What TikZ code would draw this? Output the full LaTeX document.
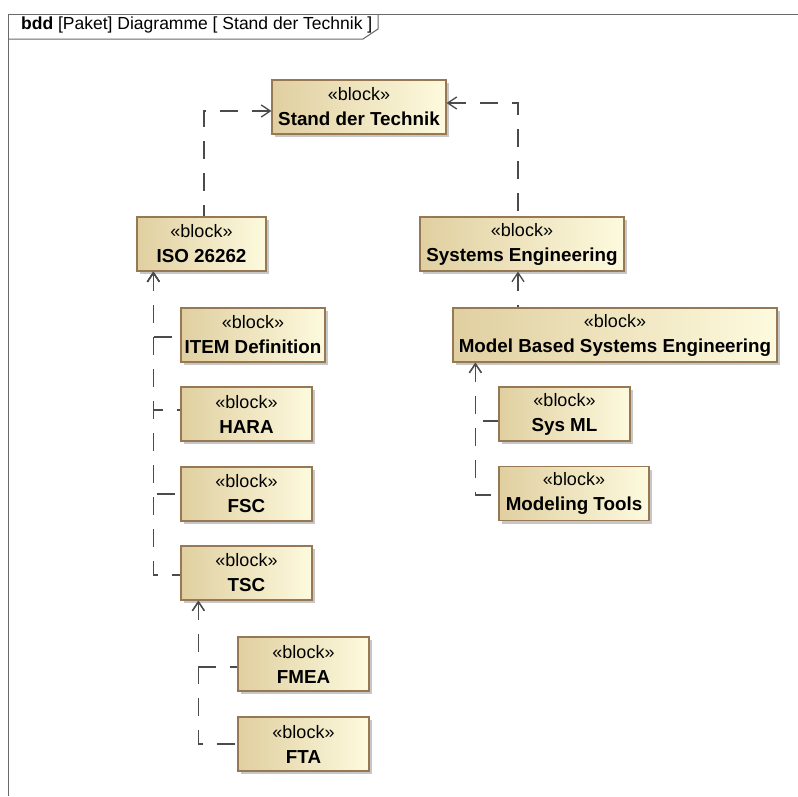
\documentclass[tikz,border=0pt]{standalone}
\usepackage{fontspec}
\setmainfont{Liberation Sans}
\usetikzlibrary{arrows.meta,shadows}
\definecolor{blkline}{RGB}{150,120,85}
\definecolor{blkdark}{RGB}{224,207,160}
\definecolor{blklight}{RGB}{253,250,222}
\definecolor{wire}{RGB}{75,75,75}
\definecolor{framegray}{RGB}{105,105,105}
\newcommand{\blocktext}[1]{«block»\\{\fontsize{18.8}{25}\selectfont\bfseries #1}}
\begin{document}
\begin{tikzpicture}[x=1pt,y=-1pt,
  blk/.style={draw=blkline, line width=1.2pt, left color=blkdark, right color=blklight,
    inner sep=0pt, align=center, minimum height=54pt,
    font=\fontsize{18}{25}\selectfont,
    drop shadow={shadow xshift=3pt, shadow yshift=-3pt, fill=black!40, opacity=0.55}},
  % dependency drawn from its target back to its source, tip at the start
  dep/.style={draw=wire, line width=1.3pt, dash pattern=on 18pt off 14pt,
    {Straight Barb[length=9pt,width=12pt]}-},
  frameline/.style={draw=framegray, line width=1pt}]
\useasboundingbox (0,0) rectangle (798,796);
\fill[white] (0,0) rectangle (798,796);

% diagram frame with name tab
\draw[frameline] (8,796) -- (8,14) -- (798,14);
\draw[frameline] (8,39) -- (363,39) -- (378,29) -- (378,14);
\node[anchor=base west, inner sep=0pt, font=\fontsize{17.5}{20}\selectfont] (title) at (21,29.5)
  {\textbf{bdd} [Paket] Diagramme [ Stand der Technik ]};

% blocks
\node[blk, minimum width=174pt] (stand) at (359,107) {\blocktext{Stand der Technik}};
\node[blk, minimum width=129pt] (iso) at (201.5,244) {\blocktext{ISO 26262}};
\node[blk, minimum width=204pt] (se) at (522,244) {\blocktext{Systems Engineering}};
\node[blk, minimum width=144pt] (item) at (253,335) {\blocktext{ITEM Definition}};
\node[blk, minimum width=131pt] (hara) at (246.5,414) {\blocktext{HARA}};
\node[blk, minimum width=131pt] (fsc) at (246.5,494) {\blocktext{FSC}};
\node[blk, minimum width=131pt] (tsc) at (246.5,573) {\blocktext{TSC}};
\node[blk, minimum width=131pt] (fmea) at (303.5,664) {\blocktext{FMEA}};
\node[blk, minimum width=131pt] (fta) at (303.5,744) {\blocktext{FTA}};
\node[blk, minimum width=324pt] (mbse) at (615,335) {\blocktext{Model Based Systems Engineering}};
\node[blk, minimum width=131pt] (sysml) at (564.5,414) {\blocktext{Sys ML}};
\node[blk, minimum width=150pt] (mtools) at (574,493.5) {\blocktext{Modeling Tools}};

% dependencies
\draw[dep] ([yshift=-4pt]stand.west) -| ([xshift=2.5pt]iso.north);
\draw[dep] ([yshift=4pt]stand.east) -| ([xshift=-4pt]se.north);
\draw[dep] ([xshift=-4pt]se.south) -- ([xshift=-4pt]se.south |- mbse.north);

\draw[dep] ([xshift=17pt]iso.south west) |- ([yshift=-2pt]item.west);
\draw[dep] ([xshift=17pt]iso.south west) |- ([yshift=4pt]hara.west);
\draw[dep] ([xshift=17pt]iso.south west) |- (fsc.west);
\draw[dep] ([xshift=17pt]iso.south west) |- ([yshift=-2pt]tsc.west);

\draw[dep] ([xshift=18pt]tsc.south west) |- ([yshift=-3pt]fmea.west);
\draw[dep] ([xshift=18pt]tsc.south west) |- (fta.west);

\draw[dep] ([xshift=23pt]mbse.south west) |- ([yshift=-7pt]sysml.west);
\draw[dep] ([xshift=23pt]mbse.south west) |- ([yshift=-1.5pt]mtools.west);
\end{tikzpicture}
\end{document}
